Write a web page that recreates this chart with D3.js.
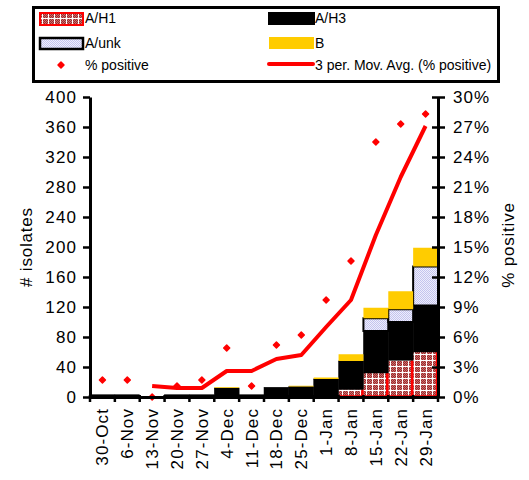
<!DOCTYPE html>
<html>
<head>
<meta charset="utf-8">
<script src="https://cdn.jsdelivr.net/npm/d3@7"></script>
<style>
  body { margin: 0; background: #fff; }
  text { font-family: "Liberation Sans", Arial, sans-serif; fill: #000; }
</style>
</head>
<body>
<svg id="chart"></svg>
<script>
// weekly data
const weeks = ["30-Oct", "6-Nov", "13-Nov", "20-Nov", "27-Nov", "4-Dec", "11-Dec",
               "18-Dec", "25-Dec", "1-Jan", "8-Jan", "15-Jan", "22-Jan", "29-Jan"];
const aH1  = [0, 0, 0, 0, 0, 0, 0, 0, 1, 1, 10, 32, 49, 60];
const aH3  = [3, 3, 0, 3, 3, 12, 3, 13, 13, 23, 38, 56, 51, 62];
const aUnk = [0, 0, 0, 0, 0, 0, 0, 0, 0, 0, 0, 17, 17, 52];
const typeB = [0, 0, 0, 0, 0, 1, 0, 0, 1, 2, 9, 14, 24, 25];
const pctPositive = [1.7, 1.7, 0, 1.1, 1.7, 4.9, 1.1, 5.2, 6.2, 9.7, 13.6, 25.5, 27.3, 28.3];
const movAvg = [null, null, 1.1, 0.9, 0.9, 2.6, 2.6, 3.8, 4.2, 7.0, 9.7, 16.2, 22.0, 27.1];
const leftTicks = [0, 40, 80, 120, 160, 200, 240, 280, 320, 360, 400];
const rightTicks = [0, 3, 6, 9, 12, 15, 18, 21, 24, 27, 30];

const seriesKeys = ["A/H1", "A/H3", "A/unk", "B"];

let width = 529, height = 480;
let plot = {left: 90, right: 438, top: 97, bottom: 397};

let svg = d3.select("#chart").attr("width", width).attr("height", height);

// patterns for the hatched / dotted fills
let defs = svg.append("defs");
let h1Pat = defs.append("pattern")
    .attr("id", "h1fill").attr("patternUnits", "userSpaceOnUse")
    .attr("width", 6).attr("height", 6);
h1Pat.append("rect").attr("width", 6).attr("height", 6).attr("fill", "#9c2a2a");
for (let i = 0; i < 6; i++) {
  for (let j = 0; j < 6; j++) {
    if ((i + j) % 2 == 0) h1Pat.append("rect").attr("x", i).attr("y", j)
        .attr("width", 1).attr("height", 1).attr("fill", "#c87070");
  }
}
h1Pat.append("rect").attr("x", 0).attr("y", 0).attr("width", 6).attr("height", 1).attr("fill", "#fff");
h1Pat.append("rect").attr("x", 0).attr("y", 0).attr("width", 1).attr("height", 6).attr("fill", "#fff");

let unkPat = defs.append("pattern")
    .attr("id", "unkfill").attr("patternUnits", "userSpaceOnUse")
    .attr("width", 2).attr("height", 2);
unkPat.append("rect").attr("width", 2).attr("height", 2).attr("fill", "#eeeefc");
unkPat.append("rect").attr("width", 1).attr("height", 1).attr("fill", "#c4c4ee");
unkPat.append("rect").attr("x", 1).attr("y", 1).attr("width", 1).attr("height", 1).attr("fill", "#c4c4ee");

// scales
let x = d3.scaleBand().domain(weeks).range([plot.left, plot.right]).padding(0);
let yLeft = d3.scaleLinear().domain([0, 400]).range([plot.bottom, plot.top]);
let yRight = d3.scaleLinear().domain([0, 30]).range([plot.bottom, plot.top]);

// stacked bars
let table = weeks.map((w, i) => ({week: w, "A/H1": aH1[i], "A/H3": aH3[i], "A/unk": aUnk[i], "B": typeB[i]}));
let stacked = d3.stack().keys(seriesKeys)(table);

let styles = {
  "A/H1": {fill: "url(#h1fill)", stroke: "none"},
  "A/H3": {fill: "#000", stroke: "#000"},
  "A/unk": {fill: "url(#unkfill)", stroke: "#000"},
  "B": {fill: "#ffcc00", stroke: "none"}
};

let bars = svg.append("g");
stacked.forEach(layer => {
  let st = styles[layer.key];
  let g = bars.append("g").attr("class", "layer");
  g.selectAll("rect")
    .data(layer.filter(d => d[1] - d[0] > 0))
    .join("rect")
      .attr("x", d => x(d.data.week))
      .attr("y", d => yLeft(d[1]))
      .attr("width", x.bandwidth())
      .attr("height", d => yLeft(d[0]) - yLeft(d[1]))
      .attr("fill", st.fill)
      .attr("stroke", st.stroke)
      .attr("stroke-width", layer.key == "A/unk" ? 2 : 0.5);
  if (layer.key == "A/H1") {
    // red border shows on the right edge of each A/H1 bar
    g.selectAll("line")
      .data(layer.filter(d => d[1] - d[0] > 0))
      .join("line")
        .attr("x1", d => x(d.data.week) + x.bandwidth() - 1)
        .attr("x2", d => x(d.data.week) + x.bandwidth() - 1)
        .attr("y1", d => yLeft(d[1]))
        .attr("y2", d => yLeft(d[0]))
        .attr("stroke", "#ff0000")
        .attr("stroke-width", 2.5);
    g.selectAll("line.bot")
      .data(layer.filter(d => d[1] - d[0] > 0))
      .join("line")
        .attr("class", "bot")
        .attr("x1", d => x(d.data.week))
        .attr("x2", d => x(d.data.week) + x.bandwidth())
        .attr("y1", d => yLeft(d[0]) - 1)
        .attr("y2", d => yLeft(d[0]) - 1)
        .attr("stroke", "#ff0000")
        .attr("stroke-width", 1.5);
  }
});

// moving average line
let line = d3.line()
    .defined(d => d != null)
    .x((d, i) => x(weeks[i]) + x.bandwidth() / 2)
    .y(d => yRight(d));

svg.append("path")
    .datum(movAvg)
    .attr("fill", "none")
    .attr("stroke", "#ff0000")
    .attr("stroke-width", 4)
    .attr("stroke-linejoin", "round")
    .attr("d", line);

// % positive points (small square diamonds)
let marker = d3.symbol().type(d3.symbolSquare).size(18);
svg.append("g").selectAll("path")
  .data(pctPositive)
  .join("path")
    .attr("transform", (d, i) => `translate(${x(weeks[i]) + x.bandwidth() / 2},${yRight(d)}) rotate(45)`)
    .attr("d", marker)
    .attr("fill", "#ff0000")
    .attr("stroke", "#ff0000")
    .attr("stroke-width", 1.5)
    .attr("stroke-linejoin", "round");

// left axis
let leftAxis = d3.axisLeft(yLeft).tickValues(leftTicks).tickSize(7).tickPadding(6).tickSizeOuter(0);
let gl = svg.append("g").attr("transform", `translate(${plot.left},0)`).call(leftAxis);

// right axis
let rightAxis = d3.axisRight(yRight).tickValues(rightTicks).tickSize(7).tickPadding(8)
    .tickSizeOuter(0).tickFormat(d => d + "%");
let gr = svg.append("g").attr("transform", `translate(${plot.right},0)`).call(rightAxis);
gr.selectAll(".tick line").attr("x1", -6);

// bottom axis: labels at band centres, ticks at band edges
let bottomAxis = d3.axisBottom(x).tickSize(0).tickSizeOuter(0);
let gb = svg.append("g").attr("transform", `translate(0,${plot.bottom})`).call(bottomAxis);
gb.selectAll(".tick text")
    .attr("y", 0).attr("x", -11).attr("dy", "0.35em")
    .attr("transform", "rotate(-90)")
    .style("text-anchor", "end");
gb.selectAll("line.edge")
  .data(weeks.map(w => x(w)).concat([x.range()[1]]))
  .join("line")
    .attr("class", "edge")
    .attr("x1", d => d).attr("x2", d => d)
    .attr("y1", -2).attr("y2", 5)
    .attr("stroke", "#000").attr("stroke-width", 2.5);

[gl, gr, gb].forEach(g => {
  g.select(".domain").attr("stroke", "#000").attr("stroke-width", 3);
  g.selectAll(".tick line").attr("stroke", "#000").attr("stroke-width", 2.5);
  g.selectAll(".tick text")
      .attr("font-size", 17)
      .attr("letter-spacing", 1.1)
      .attr("font-family", "Liberation Sans, Arial, sans-serif")
      .attr("fill", "#000");
});

// axis titles
svg.append("text")
    .attr("transform", `translate(32,${(plot.top + plot.bottom) / 2}) rotate(-90)`)
    .attr("text-anchor", "middle")
    .attr("font-size", 17)
    .attr("letter-spacing", 0.8)
    .text("# isolates");

svg.append("text")
    .attr("transform", `translate(514,${(plot.top + plot.bottom) / 2 - 2}) rotate(-90)`)
    .attr("text-anchor", "middle")
    .attr("font-size", 17)
    .attr("letter-spacing", 0.8)
    .text("% positive");

// legend
let legend = svg.append("g");
legend.append("rect")
    .attr("x", 33.5).attr("y", 7.5).attr("width", 465).attr("height", 74)
    .attr("fill", "#fff").attr("stroke", "#000").attr("stroke-width", 3);

legend.append("rect").attr("x", 40).attr("y", 13).attr("width", 43).attr("height", 12)
    .attr("fill", "url(#h1fill)").attr("stroke", "#ff0000").attr("stroke-width", 2);
legend.append("rect").attr("x", 268).attr("y", 12).attr("width", 47).attr("height", 13)
    .attr("fill", "#000");
legend.append("rect").attr("x", 40).attr("y", 38).attr("width", 43).attr("height", 11)
    .attr("fill", "url(#unkfill)").attr("stroke", "#000").attr("stroke-width", 2.5);
legend.append("rect").attr("x", 269).attr("y", 37).attr("width", 45).attr("height", 12)
    .attr("fill", "#ffcc00");
legend.append("path").attr("transform", "translate(61,65) rotate(45)").attr("d", marker)
    .attr("fill", "#ff0000").attr("stroke", "#ff0000").attr("stroke-width", 1.5)
    .attr("stroke-linejoin", "round");
legend.append("line").attr("x1", 269).attr("x2", 313).attr("y1", 64).attr("y2", 64)
    .attr("stroke", "#ff0000").attr("stroke-width", 4).attr("stroke-linecap", "round");

let legendText = [
  {t: "A/H1", x: 85, y: 23},
  {t: "A/H3", x: 315, y: 23},
  {t: "A/unk", x: 85, y: 48},
  {t: "B", x: 315, y: 48},
  {t: "% positive", x: 85, y: 70},
  {t: "3 per. Mov. Avg. (% positive)", x: 315, y: 70}
];
legend.selectAll("text.lbl")
  .data(legendText)
  .join("text")
    .attr("class", "lbl")
    .attr("x", d => d.x).attr("y", d => d.y)
    .attr("font-size", 14)
    .text(d => d.t);
</script>
</body>
</html>
